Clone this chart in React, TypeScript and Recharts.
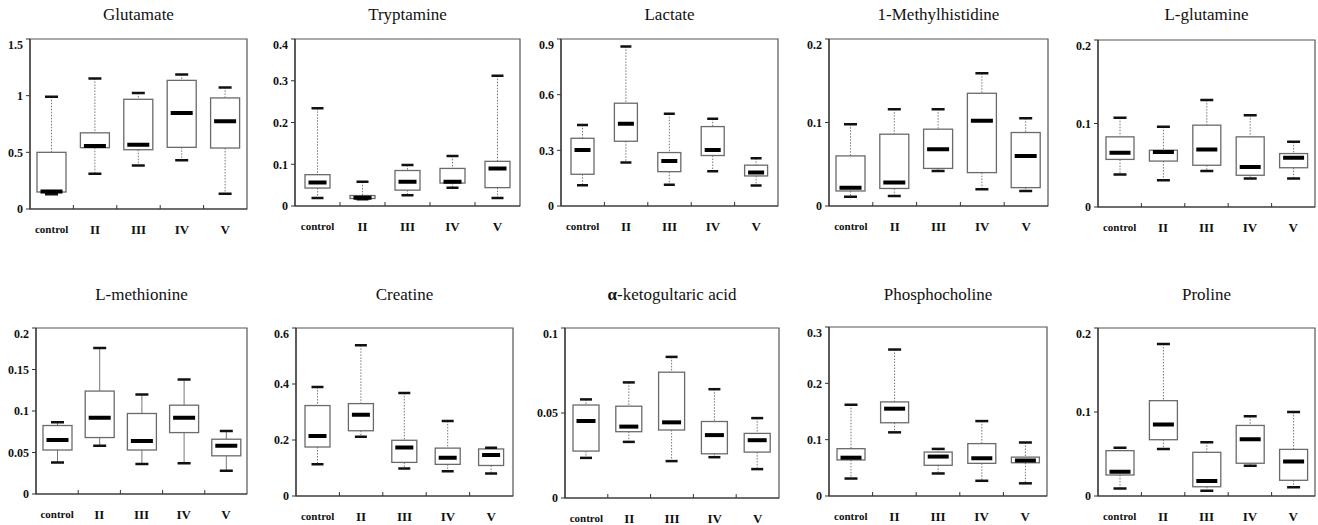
import React from 'react';
import { ComposedChart, Bar, XAxis, YAxis, ReferenceArea } from 'recharts';

const groups = ['control', 'II', 'III', 'IV', 'V'];

// each row: [min, q1, median, q3, max] for one group
const glutamate = [
  [0.13, 0.15, 0.155, 0.5, 0.99],
  [0.31, 0.541, 0.556, 0.672, 1.152],
  [0.383, 0.523, 0.567, 0.968, 1.023],
  [0.43, 0.544, 0.848, 1.135, 1.187],
  [0.134, 0.538, 0.775, 0.98, 1.073],
];
const tryptamine = [
  [0.019, 0.043, 0.056, 0.075, 0.234],
  [0.016, 0.018, 0.02, 0.025, 0.058],
  [0.026, 0.038, 0.058, 0.085, 0.098],
  [0.044, 0.055, 0.058, 0.09, 0.12],
  [0.019, 0.044, 0.09, 0.107, 0.312],
];
const lactate = [
  [0.112, 0.171, 0.302, 0.365, 0.437],
  [0.234, 0.349, 0.443, 0.554, 0.86],
  [0.115, 0.185, 0.243, 0.288, 0.497],
  [0.187, 0.272, 0.302, 0.428, 0.47],
  [0.11, 0.162, 0.18, 0.22, 0.257],
];
const methylhistidine = [
  [0.011, 0.018, 0.022, 0.06, 0.098],
  [0.012, 0.021, 0.028, 0.086, 0.116],
  [0.042, 0.045, 0.068, 0.092, 0.116],
  [0.02, 0.04, 0.102, 0.135, 0.159],
  [0.018, 0.022, 0.06, 0.088, 0.105],
];
const glutamine = [
  [0.039, 0.057, 0.065, 0.084, 0.107],
  [0.032, 0.055, 0.066, 0.068, 0.096],
  [0.043, 0.05, 0.069, 0.098, 0.128],
  [0.034, 0.038, 0.048, 0.084, 0.11],
  [0.034, 0.047, 0.059, 0.064, 0.078],
];
const methionine = [
  [0.038, 0.053, 0.065, 0.0825, 0.0865],
  [0.058, 0.068, 0.092, 0.124, 0.176],
  [0.036, 0.053, 0.064, 0.097, 0.12],
  [0.037, 0.074, 0.092, 0.107, 0.138],
  [0.028, 0.046, 0.058, 0.066, 0.076],
];
const creatine = [
  [0.113, 0.175, 0.214, 0.323, 0.389],
  [0.212, 0.233, 0.29, 0.33, 0.538],
  [0.098, 0.12, 0.173, 0.199, 0.368],
  [0.088, 0.113, 0.137, 0.171, 0.268],
  [0.08, 0.109, 0.146, 0.168, 0.172],
];
const ketoglutaric = [
  [0.0236, 0.0276, 0.0453, 0.0547, 0.058],
  [0.033, 0.039, 0.042, 0.054, 0.068],
  [0.0217, 0.04, 0.0445, 0.074, 0.083],
  [0.024, 0.026, 0.037, 0.045, 0.064],
  [0.017, 0.027, 0.034, 0.038, 0.047],
];
const phosphocholine = [
  [0.031, 0.064, 0.068, 0.084, 0.162],
  [0.113, 0.13, 0.155, 0.167, 0.26],
  [0.04, 0.0545, 0.07, 0.078, 0.0836],
  [0.027, 0.058, 0.067, 0.093, 0.133],
  [0.0225, 0.059, 0.063, 0.069, 0.095],
];
const proline = [
  [0.009, 0.025, 0.029, 0.054, 0.0575],
  [0.056, 0.067, 0.085, 0.1135, 0.181],
  [0.0063, 0.011, 0.018, 0.052, 0.064],
  [0.036, 0.039, 0.0675, 0.084, 0.095],
  [0.0103, 0.0187, 0.041, 0.0555, 0.1],
];

const glutamateTicks = [0, 0.5, 1, 1.5];
const tryptamineTicks = [0, 0.1, 0.2, 0.3, 0.4];
const lactateTicks = [0, 0.3, 0.6, 0.9];
const methylhistidineTicks = [0, 0.1, 0.2];
const glutamineTicks = [0, 0.1, 0.2];
const methionineTicks = [0, 0.05, 0.1, 0.15, 0.2];
const creatineTicks = [0, 0.2, 0.4, 0.6];
const ketoglutaricTicks = [0, 0.05, 0.1];
const phosphocholineTicks = [0, 0.1, 0.2, 0.3];
const prolineTicks = [0, 0.1, 0.2];

const serif = 'Liberation Serif, Tinos, Times New Roman, DejaVu Serif, serif';
const Y_AXIS_W = 36;
const X_AXIS_H = 34;
const M_TOP = 2;

const panels = [
  { title: 'Glutamate', stats: glutamate, ticks: glutamateTicks, x: 30, y: 39, w: 217, h: 170, box: 29, titleY: 15 },
  { title: 'Tryptamine', stats: tryptamine, ticks: tryptamineTicks, x: 295, y: 39, w: 225, h: 167, box: 25, titleY: 15 },
  { title: 'Lactate', stats: lactate, ticks: lactateTicks, x: 561, y: 39, w: 217, h: 167, box: 23, titleY: 15 },
  { title: '1-Methylhistidine', stats: methylhistidine, ticks: methylhistidineTicks, x: 829, y: 39, w: 219, h: 167, box: 29, titleY: 15 },
  { title: 'L-glutamine', stats: glutamine, ticks: glutamineTicks, x: 1098, y: 40, w: 217, h: 167, box: 28, titleY: 15 },
  { title: 'L-methionine', stats: methionine, ticks: methionineTicks, x: 36, y: 328, w: 211, h: 166, box: 29, titleY: 295, solid: true },
  { title: 'Creatine', stats: creatine, ticks: creatineTicks, x: 296, y: 328, w: 217, h: 168, box: 25, titleY: 295 },
  { title: 'alpha', stats: ketoglutaric, ticks: ketoglutaricTicks, x: 565, y: 328, w: 214, h: 170, box: 26, titleY: 295 },
  { title: 'Phosphocholine', stats: phosphocholine, ticks: phosphocholineTicks, x: 829, y: 327, w: 218, h: 169, box: 28, titleY: 295 },
  { title: 'Proline', stats: proline, ticks: prolineTicks, x: 1098, y: 328, w: 217, h: 168, box: 28, titleY: 295 },
];

function BoxShape(props: any) {
  const { x, y, width, height, payload, solid } = props;
  const [min, q1, med, q3, max] = payload.stats;
  const top = Math.min(y, y + height);
  const bot = Math.max(y, y + height);
  const py = (v: number) => bot - ((bot - top) * (v - min)) / (max - min);
  const cx = x + width / 2;
  const capW = Math.round(width * 0.46);
  const medW = width - 7;
  const dash = solid ? undefined : '1.5 1.5';
  return (
    <g>
      <line x1={cx} x2={cx} y1={py(max)} y2={py(q3)} stroke="#777" strokeWidth={1} strokeDasharray={dash} />
      <line x1={cx} x2={cx} y1={py(q1)} y2={py(min)} stroke="#777" strokeWidth={1} strokeDasharray={dash} />
      <rect x={x} y={py(q3)} width={width} height={Math.max(py(q1) - py(q3), 1)} fill="#fff" stroke="#6a6a6a" strokeWidth={1.3} />
      <line x1={cx - capW / 2} x2={cx + capW / 2} y1={py(max)} y2={py(max)} stroke="#111" strokeWidth={2.5} />
      <line x1={cx - capW / 2} x2={cx + capW / 2} y1={py(min)} y2={py(min)} stroke="#111" strokeWidth={2.5} />
      <line x1={cx - medW / 2} x2={cx + medW / 2} y1={py(med)} y2={py(med)} stroke="#000" strokeWidth={4} />
    </g>
  );
}

function GroupTick(props: any) {
  const { x, y, payload, index } = props;
  const half = payload.offset ?? 0;
  const isControl = payload.value === 'control';
  return (
    <g>
      <text
        x={x}
        y={y + 20}
        dy="0.35em"
        textAnchor="middle"
        fontFamily={serif}
        fontWeight="bold"
        fontSize={isControl ? 11 : 13}
        fill="#111"
      >
        {payload.value}
      </text>
      {index < groups.length - 1 && (
        <line x1={x + half} x2={x + half} y1={y} y2={y - 4} stroke="#333" strokeWidth={1} />
      )}
    </g>
  );
}

function Panel({ p }: { p: any }) {
  const data = groups.map((g, i) => ({
    group: g,
    stats: p.stats[i],
    range: [p.stats[i][0], p.stats[i][4]],
  }));
  const yMax = p.ticks[p.ticks.length - 1];
  const chartW = Y_AXIS_W + p.w + 2;
  const chartH = M_TOP + p.h + X_AXIS_H;
  return (
    <>
      <div
        style={{
          position: 'absolute',
          left: p.x,
          top: p.titleY - 11,
          width: p.w,
          height: 22,
          lineHeight: '22px',
          textAlign: 'center',
          fontFamily: serif,
          fontSize: 17,
          color: '#111',
        }}
      >
        {p.title === 'alpha' ? (
          <span>
            <b>α</b>-ketogultaric acid
          </span>
        ) : (
          p.title
        )}
      </div>
      <div style={{ position: 'absolute', left: p.x - Y_AXIS_W, top: p.y - M_TOP }}>
        <ComposedChart
          width={chartW}
          height={chartH}
          data={data}
          margin={{ top: M_TOP, right: 2, left: 0, bottom: 0 }}
        >
          <XAxis
            dataKey="group"
            xAxisId="main"
            height={X_AXIS_H}
            tickLine={false}
            tickSize={0}
            tickMargin={0}
            interval={0}
            axisLine={{ stroke: '#333', strokeWidth: 1.2 }}
            tick={<GroupTick />}
          />
          <YAxis
            yAxisId="main"
            width={Y_AXIS_W}
            domain={[0, yMax]}
            ticks={p.ticks}
            allowDataOverflow
            tickSize={4}
            tickMargin={3}
            tickLine={{ stroke: '#333' }}
            axisLine={{ stroke: '#333', strokeWidth: 1.2 }}
            tick={{ fontFamily: serif, fontWeight: 'bold', fontSize: 12, fill: '#111' }}
          />
          <ReferenceArea
            xAxisId="main"
            yAxisId="main"
            y1={0}
            y2={yMax}
            fill="none"
            stroke="#555"
            strokeWidth={1.2}
            ifOverflow="visible"
          />
          <Bar
            xAxisId="main"
            yAxisId="main"
            dataKey="range"
            barSize={p.box}
            isAnimationActive={false}
            shape={(props: any) => <BoxShape {...props} solid={p.solid} />}
          />
        </ComposedChart>
      </div>
    </>
  );
}

export default function App() {
  return (
    <div style={{ position: 'absolute', left: 0, top: 0, width: 1318, height: 525, background: '#fff' }}>
      {panels.map((p) => (
        <Panel key={p.title} p={p} />
      ))}
    </div>
  );
}
